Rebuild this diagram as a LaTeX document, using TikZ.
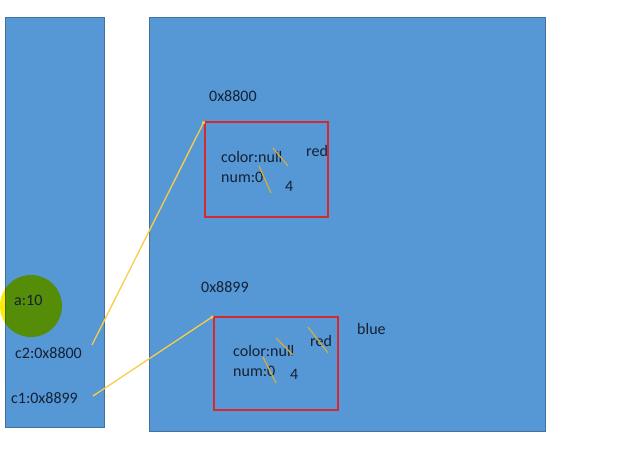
\documentclass[tikz,border=0pt]{standalone}
\usepackage{fontspec}
\setmainfont{Carlito}
\usetikzlibrary{arrows.meta, positioning}

\definecolor{memblue}{RGB}{85,152,213}
\definecolor{memedge}{RGB}{66,114,158}
\definecolor{objred}{RGB}{215,40,50}
\definecolor{txtdark}{RGB}{22,32,52}
\definecolor{refline}{RGB}{250,205,70}
\definecolor{hilite}{RGB}{255,235,10}

\begin{document}
\begin{tikzpicture}[
        x=1pt, y=-1pt,
        area/.style={draw=memedge, fill=memblue, line width=1pt, inner sep=0},
        obj/.style={draw=objred, line width=1.5pt, inner sep=0},
        lbl/.style={anchor=west, inner sep=0, text=txtdark, font=\fontsize{16}{19}\selectfont},
        ref/.style={draw=refline, line width=1.3pt, -{Circle[length=3pt, fill=orange]}},
        strike/.style={draw=refline!85!black, line width=1.2pt}
    ]
        \fill[white] (0,0) rectangle (643,449);
        \useasboundingbox (0,0) rectangle (643,449);

        % Stack and heap
        \node[area, minimum width=99pt, minimum height=409pt] (stack) at (54.5,222.5) {};
        \node[area, minimum width=396pt, minimum height=413pt] (heap) at (347,224.5) {};

        % Cursor highlight
        \fill[hilite, blend mode=multiply] (31,306) circle (31);

        % Stack entries
        \node[lbl] (a) at (14,300) {a:10};
        \node[lbl] (c2) at (15,353) {c2:0x8800};
        \node[lbl] (c1) at (11,398) {c1:0x8899};
        \coordinate (c2ref) at (92,345);
        \coordinate (c1ref) at (93,396);

        % First object
        \node[lbl] (addr1) at (209,96) {0x8800};
        \node[obj, minimum width=123pt, minimum height=95pt] (obj1) at (266.5,169.5) {};
        \node[lbl] (color1) at (221,157) {color:null};
        \node[lbl] (num1) at (221,177) {num:0};
        \node[lbl] (four1) at (285,186) {4};
        \node[lbl] (red1) at (306,151) {red};
        \draw[strike] (273,148) -- (288,166);
        \draw[strike] (259,166) -- (271,193);

        % Second object
        \node[lbl] (addr2) at (201,287) {0x8899};
        \node[obj, minimum width=124pt, minimum height=93pt] (obj2) at (276,363.5) {};
        \node[lbl] (color2) at (233,351) {color:null};
        \node[lbl] (num2) at (233,371) {num:0};
        \node[lbl] (four2) at (290,374) {4};
        \node[lbl] (red2) at (310,341) {red};
        \node[lbl] (blue2) at (357,329) {blue};
        \draw[strike] (276,338) -- (293,355);
        \draw[strike] (263,357) -- (276,383);
        \draw[strike] (308,327) -- (328,353);

        % References
        \draw[ref] (c2ref) -- (obj1.north west);
        \draw[ref] (c1ref) -- (obj2.north west);

    \end{tikzpicture}
\end{document}
